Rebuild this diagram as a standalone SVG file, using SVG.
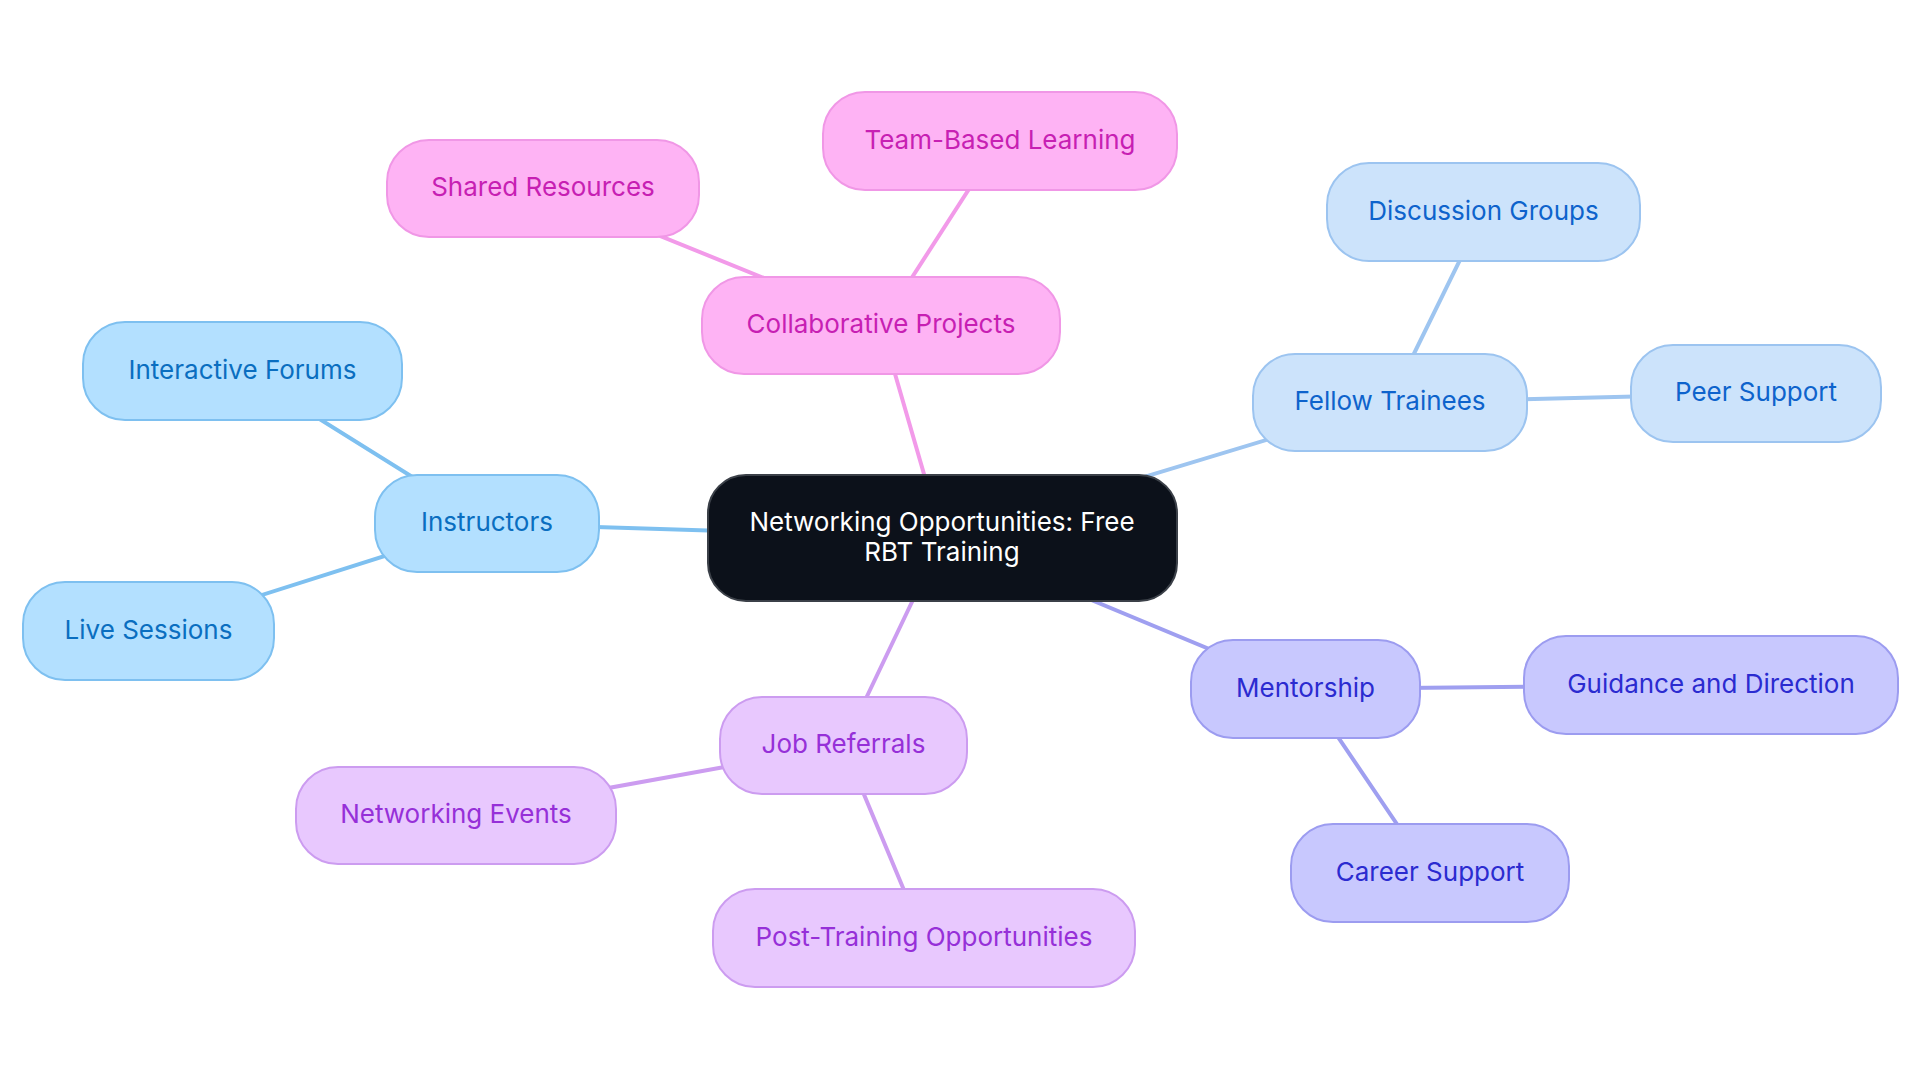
<svg xmlns="http://www.w3.org/2000/svg" width="1920" height="1083" viewBox="0 0 1920 1083">
<style>
text{font-family:Inter,"Open Sans","Liberation Sans",sans-serif;font-size:26px;text-anchor:middle}
.e{stroke-width:4;fill:none;stroke-linecap:round}
.blue rect{fill:#b3e0ff;stroke:#7ec0f0;stroke-width:2}
.blue text{fill:#0a6ec0}
.lblue rect{fill:#cce3fb;stroke:#9cc4f0;stroke-width:2}
.lblue text{fill:#0e63cc}
.pink rect{fill:#feb3f4;stroke:#f097e6;stroke-width:2}
.pink text{fill:#c71fb3}
.indigo rect{fill:#c8c8fe;stroke:#9c9cf0;stroke-width:2}
.indigo text{fill:#2b2bd0}
.violet rect{fill:#e8c8fe;stroke:#cc9cf0;stroke-width:2}
.violet text{fill:#9630d8}
</style>
<rect width="1920" height="1083" fill="#ffffff"/>
<g id="connectors">
<line class="e" stroke="#f29ae9" x1="942.5" y1="538" x2="881" y2="325.5"/>
<line class="e" stroke="#f29ae9" x1="881" y1="325.5" x2="1000" y2="141"/>
<line class="e" stroke="#f29ae9" x1="881" y1="325.5" x2="543" y2="188.5"/>
<line class="e" stroke="#7ec0f0" x1="942.5" y1="538" x2="487" y2="523.5"/>
<line class="e" stroke="#7ec0f0" x1="487" y1="523.5" x2="242.5" y2="371"/>
<line class="e" stroke="#7ec0f0" x1="487" y1="523.5" x2="148.5" y2="631"/>
<line class="e" stroke="#9ec5f0" x1="942.5" y1="538" x2="1390" y2="402.5"/>
<line class="e" stroke="#9ec5f0" x1="1390" y1="402.5" x2="1483.5" y2="212"/>
<line class="e" stroke="#9ec5f0" x1="1390" y1="402.5" x2="1756" y2="393.5"/>
<line class="e" stroke="#9f9ff0" x1="942.5" y1="538" x2="1305.5" y2="689"/>
<line class="e" stroke="#9f9ff0" x1="1305.5" y1="689" x2="1711" y2="685"/>
<line class="e" stroke="#9f9ff0" x1="1305.5" y1="689" x2="1430" y2="873"/>
<line class="e" stroke="#cc9cf0" x1="942.5" y1="538" x2="843.5" y2="745.5"/>
<line class="e" stroke="#cc9cf0" x1="843.5" y1="745.5" x2="456" y2="815.5"/>
<line class="e" stroke="#cc9cf0" x1="843.5" y1="745.5" x2="924" y2="938"/>
</g>
<g id="root">
<rect x="708" y="475" width="469" height="126" rx="38" fill="#0c111a" stroke="#3b4048" stroke-width="2"/>
<text x="942" y="531" fill="#ffffff">Networking Opportunities: Free</text>
<text x="942" y="561" fill="#ffffff">RBT Training</text>
</g>
<g id="collaborative-projects" class="pink"><rect x="702" y="277" width="358" height="97" rx="42"/><text x="881" y="333">Collaborative Projects</text></g>
<g id="team-based-learning" class="pink"><rect x="823" y="92" width="354" height="98" rx="42"/><text x="1000" y="149">Team-Based Learning</text></g>
<g id="shared-resources" class="pink"><rect x="387" y="140" width="312" height="97" rx="42"/><text x="543" y="196">Shared Resources</text></g>
<g id="instructors" class="blue"><rect x="375" y="475" width="224" height="97" rx="42"/><text x="487" y="531">Instructors</text></g>
<g id="interactive-forums" class="blue"><rect x="83" y="322" width="319" height="98" rx="42"/><text x="242.5" y="379">Interactive Forums</text></g>
<g id="live-sessions" class="blue"><rect x="23" y="582" width="251" height="98" rx="42"/><text x="148.5" y="639">Live Sessions</text></g>
<g id="fellow-trainees" class="lblue"><rect x="1253" y="354" width="274" height="97" rx="42"/><text x="1390" y="410">Fellow Trainees</text></g>
<g id="discussion-groups" class="lblue"><rect x="1327" y="163" width="313" height="98" rx="42"/><text x="1483.5" y="220">Discussion Groups</text></g>
<g id="peer-support" class="lblue"><rect x="1631" y="345" width="250" height="97" rx="42"/><text x="1756" y="401">Peer Support</text></g>
<g id="mentorship" class="indigo"><rect x="1191" y="640" width="229" height="98" rx="42"/><text x="1305.5" y="697">Mentorship</text></g>
<g id="guidance-and-direction" class="indigo"><rect x="1524" y="636" width="374" height="98" rx="42"/><text x="1711" y="693">Guidance and Direction</text></g>
<g id="career-support" class="indigo"><rect x="1291" y="824" width="278" height="98" rx="42"/><text x="1430" y="881">Career Support</text></g>
<g id="job-referrals" class="violet"><rect x="720" y="697" width="247" height="97" rx="42"/><text x="843.5" y="753">Job Referrals</text></g>
<g id="networking-events" class="violet"><rect x="296" y="767" width="320" height="97" rx="42"/><text x="456" y="823">Networking Events</text></g>
<g id="post-training-opportunities" class="violet"><rect x="713" y="889" width="422" height="98" rx="42"/><text x="924" y="946">Post-Training Opportunities</text></g>
</svg>
